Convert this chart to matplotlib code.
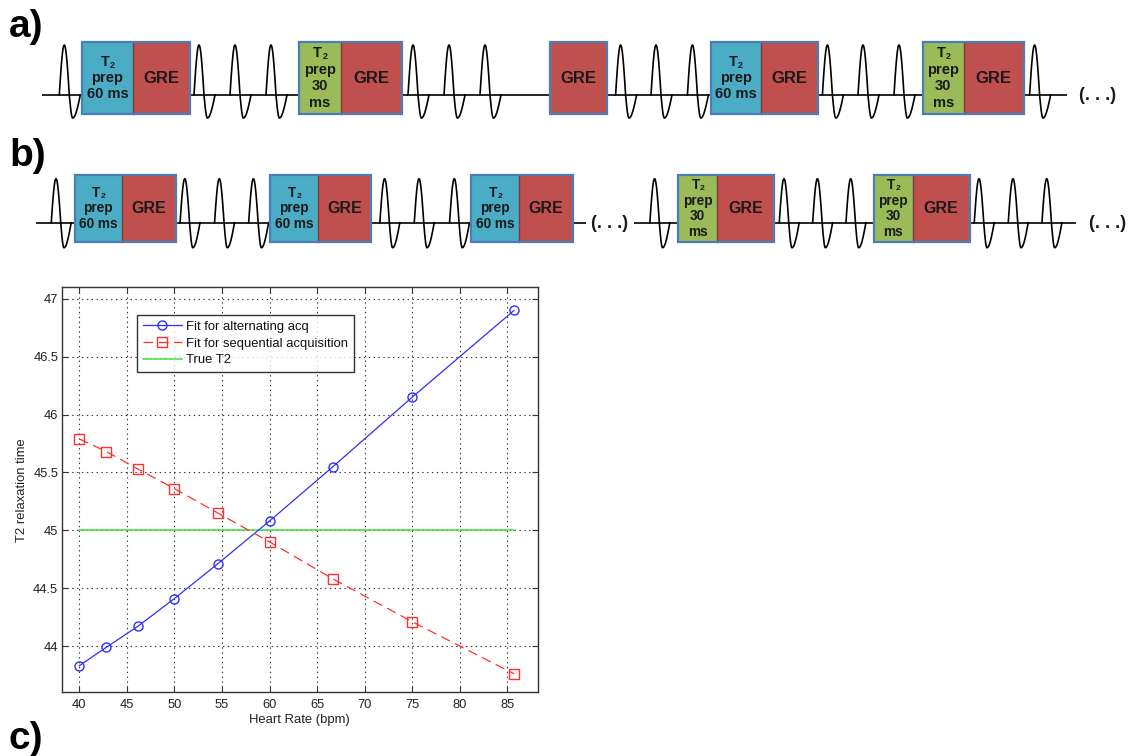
import matplotlib
matplotlib.use('Agg')
import matplotlib.pyplot as plt
import numpy as np
from matplotlib.patches import Rectangle

plt.rcParams['font.family'] = ['Liberation Sans', 'DejaVu Sans']
plt.rcParams['lines.scale_dashes'] = False

# ---------------- chart data (panel c) ----------------
heart_rate = [40, 42.86, 46.15, 50, 54.55, 60, 66.67, 75, 85.71]
t2_alternating = [43.83, 43.99, 44.17, 44.41, 44.71, 45.08, 45.55, 46.15, 46.90]
t2_sequential = [45.79, 45.68, 45.53, 45.36, 45.15, 44.90, 44.58, 44.21, 43.76]
true_t2_x = [40, 85.71]
true_t2_y = [45, 45]
legend_labels = ['Fit for alternating acq', 'Fit for sequential acquisition', 'True T2']
x_ticks = [40, 45, 50, 55, 60, 65, 70, 75, 80, 85]
y_ticks = [44, 44.5, 45, 45.5, 46, 46.5, 47]
y_tick_labels = ['44', '44.5', '45', '45.5', '46', '46.5', '47']
x_label = 'Heart Rate (bpm)'
y_label = 'T2 relaxation time'

# ---------------- diagram content (panels a, b) ----------------
box_text = {
    'T60': ['T2', 'prep', '60 ms'],
    'T30': ['T2', 'prep', '30', 'ms'],
    'GRE': [],
}
panel_labels = ['a)', 'b)', 'c)']
ellipsis_text = '(. . .)'

# diagram layout (pixel coordinates of the 1129x756 canvas)
W, H = 1129, 756
rows = [
    dict(base=95, top=42.3, bot=114, up=50, dn=23, k=1.0, fs=10.5, gfs=12,
         start=42,
         peaks=[64.3, 199, 235, 271, 413, 449, 485, 620.6, 656, 692.4,
                827.4, 863, 899, 1034.6],
         boxes=[(82, 133, 189.5, 'T60'), (299, 341, 402, 'T30'),
                (550, None, 607.2, 'GRE'), (710.6, 760.7, 817.6, 'T60'),
                (922.8, 963.8, 1023.7, 'T30')],
         segs=[(42, 1067)], dots=[1098]),
    dict(base=222.7, top=175, bot=241.7, up=44, dn=25, k=0.95, fs=9.8, gfs=11.5,
         start=36,
         peaks=[56, 184.8, 219.3, 253.4, 384.6, 419, 454.3, 654.6, 784, 817.4,
                850.7, 979, 1013, 1046.7],
         boxes=[(74.5, 121.7, 176, 'T60'), (270.2, 317.6, 371.2, 'T60'),
                (470.7, 519.3, 572.9, 'T60'), (678, 717.3, 773.6, 'T30'),
                (874, 912.6, 969.7, 'T30')],
         segs=[(36, 585.5), (634, 1075.5)], dots=[610, 1108]),
]
label_pos = [(9, 37), (9, 166), (9, 749)]

col_prep = {'T60': '#4bacc6', 'T30': '#9bbb59'}
col_gre = '#c0504d'
col_border = '#4a7ebb'
txt_col = '#1a1a1a'

fig = plt.figure(figsize=(W / 100, H / 100), dpi=100)
dax = fig.add_axes([0, 0, 1, 1], zorder=0)
dax.set_xlim(0, W)
dax.set_ylim(H, 0)
dax.axis('off')


def beat_curve(p, base, up, dn, k):
    x1 = np.linspace(p - 5 * k, p + 5 * k, 40)
    y1 = base - up * np.sin(np.pi * (x1 - (p - 5 * k)) / (10 * k))
    x2 = np.linspace(p + 5 * k, p + 8.4 * k, 20)
    y2 = base + dn * np.sin(np.pi / 2 * (x2 - (p + 5 * k)) / (3.4 * k))
    x3 = np.linspace(p + 8.4 * k, p + 16 * k, 30)
    y3 = base + dn * np.cos(np.pi / 2 * (x3 - (p + 8.4 * k)) / (7.6 * k))
    return np.concatenate([x1, x2, x3]), np.concatenate([y1, y2, y3])


for r in rows:
    for (s, e) in r['segs']:
        dax.plot([s, e], [r['base'], r['base']], color='black', lw=1.2, zorder=2,
                 solid_capstyle='butt')
    for p in r['peaks']:
        bx, by = beat_curve(p, r['base'], r['up'], r['dn'], r['k'])
        dax.plot(bx, by, color='black', lw=1.2, zorder=2)
    for d in r['dots']:
        dax.text(d, r['base'] + 1, ellipsis_text, ha='center', va='center',
                 fontsize=13, fontweight='bold', color=txt_col, zorder=5)
    h = r['bot'] - r['top']
    cy = (r['top'] + r['bot']) / 2
    for (x0, xs, x1, kind) in r['boxes']:
        if xs is None:
            dax.add_patch(Rectangle((x0, r['top']), x1 - x0, h, facecolor=col_gre,
                                    edgecolor='none', zorder=3))
            gx = (x0 + x1) / 2
        else:
            dax.add_patch(Rectangle((x0, r['top']), xs - x0, h,
                                    facecolor=col_prep[kind], edgecolor='none', zorder=3))
            dax.add_patch(Rectangle((xs, r['top']), x1 - xs, h, facecolor=col_gre,
                                    edgecolor='none', zorder=3))
            dax.plot([xs, xs], [r['top'], r['bot']], color='#7a3b3b', lw=1.0, zorder=4)
            gx = (xs + x1) / 2
            lines = box_text[kind]
            n = len(lines)
            sp = 16 * r['k'] if n == 3 else 16.5 * r['k']
            px = (x0 + xs) / 2
            for i, t in enumerate(lines):
                ly = cy + (i - (n - 1) / 2) * sp
                if t == 'T2':
                    dax.text(px + 2, ly, 'T', ha='right', va='center', fontsize=r['fs'],
                             fontweight='bold', color=txt_col, zorder=5)
                    dax.text(px + 2.5, ly + 3.5, '2', ha='left', va='center',
                             fontsize=r['fs'] * 0.62, fontweight='bold', color=txt_col,
                             zorder=5)
                else:
                    dax.text(px, ly, t, ha='center', va='center', fontsize=r['fs'],
                             fontweight='bold', color=txt_col, zorder=5)
        dax.add_patch(Rectangle((x0, r['top']), x1 - x0, h, facecolor='none',
                                edgecolor=col_border, lw=1.6, zorder=4))
        dax.text(gx, cy, 'GRE', ha='center', va='center', fontsize=r['gfs'],
                 fontweight='bold', color=txt_col, zorder=5)

for lab, (lx, ly) in zip(panel_labels, label_pos):
    dax.text(lx, ly, lab, ha='left', va='baseline', fontsize=28, fontweight='bold',
             color='black', zorder=5)

# ---------------- chart (panel c) ----------------
ax_l, ax_r, ax_t, ax_b = 61.7, 537.7, 287.3, 692.3
ax = fig.add_axes([ax_l / W, (H - ax_b) / H, (ax_r - ax_l) / W, (ax_b - ax_t) / H],
                  zorder=1)
ax.plot(heart_rate, t2_alternating, '-', color='#2f2fff', lw=0.9, marker='o',
        markersize=6.5, markerfacecolor='none', markeredgecolor='#2f2fff', mew=1.0,
        label=legend_labels[0], zorder=4)
ax.plot(heart_rate, t2_sequential, color='#ff3030', lw=0.9, linestyle=(0, (7, 4)),
        marker='s', markersize=6.5, markerfacecolor='none', markeredgecolor='#ff3030',
        mew=1.0, label=legend_labels[1], zorder=4)
ax.plot(true_t2_x, true_t2_y, '-', color='#3ee03e', lw=1.1, label=legend_labels[2],
        zorder=3)

ax.set_xlim(38.15, 88.2)
ax.set_ylim(43.6, 47.1)
ax.set_xticks(x_ticks)
ax.set_yticks(y_ticks)
ax.set_yticklabels(y_tick_labels)
ax.grid(True, color='#333333', linestyle=(0, (1, 2.5)), lw=0.8)
ax.tick_params(direction='in', length=4, width=0.8, top=True, right=True,
               labelsize=9.3, colors='#333333', labelcolor='#222222')
ax.tick_params(axis='x', pad=5)
ax.tick_params(axis='y', pad=2.5)
for sp_ in ax.spines.values():
    sp_.set_color('#333333')
    sp_.set_linewidth(1.0)

leg = ax.legend(loc='upper left', bbox_to_anchor=((136.7 - ax_l) / (ax_r - ax_l),
                                                  (ax_b - 315) / (ax_b - ax_t)),
                borderaxespad=0, fontsize=9.4, frameon=True, fancybox=False,
                edgecolor='black', handlelength=3.05, handletextpad=0.3,
                labelspacing=0.35, borderpad=0.45, numpoints=1)
leg.get_frame().set_linewidth(1.0)
for t in leg.get_texts():
    t.set_color('#111111')

fig.text((ax_l + ax_r) / 2 / W, 1 - 720 / H, x_label, ha='center', va='center',
         fontsize=9.4, color='#222222')
fig.text(22 / W, 1 - 490 / H, y_label, ha='center', va='center', rotation=90,
         fontsize=9.4, color='#222222')

fig.savefig('out.png', dpi=100)
